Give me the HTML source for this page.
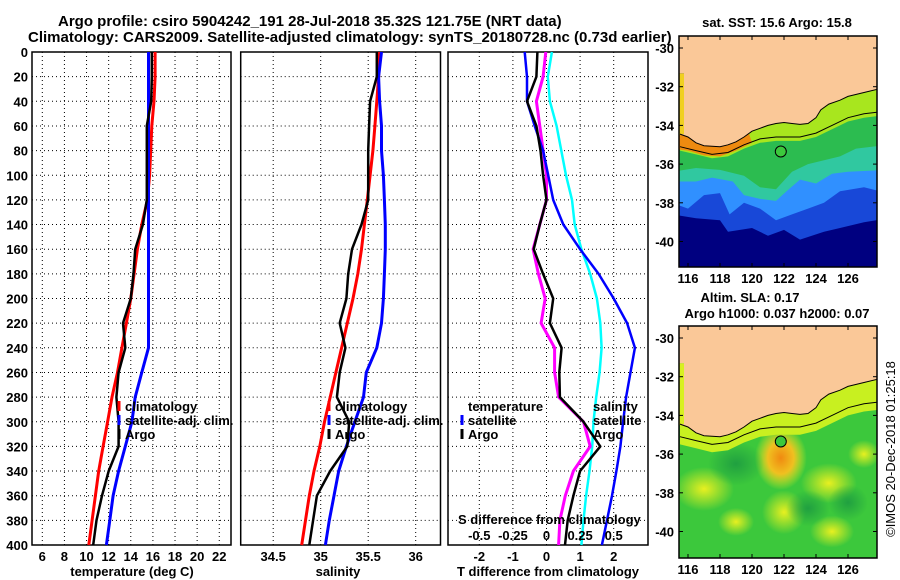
<!DOCTYPE html>
<html><head><meta charset="utf-8"><style>
html,body{margin:0;padding:0;background:#fff;}
svg{display:block;font-family:"Liberation Sans",Arial,sans-serif;}
.t{font-weight:bold;font-size:13px;fill:#000;}
.ttl{font-weight:bold;font-size:15px;fill:#000;}
</style></head><body>
<svg id="fig" width="900" height="580" viewBox="0 0 900 580">
<text class="ttl" x="58" y="26">Argo profile: csiro 5904242_191 28-Jul-2018 35.32S 121.75E (NRT data)</text>
<text class="ttl" x="28" y="42">Climatology: CARS2009. Satellite-adjusted climatology: synTS_20180728.nc (0.73d earlier)</text>
</svg>
<script>
const depths=[0,20,40,60,80,100,120,140,160,180,200,220,240,260,280,300,320,340,360,380,400];
const tClim=[16.2,16.2,16.1,15.9,15.8,15.7,15.5,15.0,14.6,14.3,14.0,13.6,13.2,12.8,12.3,11.9,11.5,11.1,10.8,10.5,10.2];
const tSat=[15.6,15.6,15.6,15.6,15.6,15.6,15.6,15.6,15.6,15.6,15.6,15.6,15.6,15.0,14.4,14.1,13.5,12.9,12.4,12.1,11.8];
const tArgo=[15.9,15.9,15.85,15.45,15.45,15.45,15.45,15.1,14.4,14.25,14.0,13.3,13.5,12.9,12.7,12.9,12.9,12.0,11.4,10.9,10.6];
const sClim=[35.62,35.61,35.59,35.57,35.55,35.52,35.49,35.46,35.43,35.39,35.34,35.28,35.22,35.16,35.10,35.04,34.99,34.93,34.88,34.84,34.80];
const sSat=[35.64,35.61,35.62,35.64,35.64,35.66,35.67,35.68,35.68,35.67,35.66,35.64,35.59,35.48,35.45,35.36,35.27,35.19,35.14,35.09,35.05];
const sArgo=[35.59,35.59,35.52,35.51,35.50,35.50,35.50,35.43,35.33,35.29,35.27,35.20,35.26,35.20,35.17,35.30,35.28,35.10,34.96,34.92,34.88];
const dTSat=[-0.65,-0.58,-0.58,-0.35,-0.1,0.05,0.2,0.5,1.0,1.55,2.0,2.4,2.63,2.5,2.37,2.28,2.2,2.08,1.95,1.8,1.65];
const dTArgo=[-0.27,-0.3,-0.58,-0.3,-0.18,-0.1,0,-0.2,-0.38,-0.1,0.2,0.1,0.45,0.38,0.4,1.1,1.6,1.0,0.8,0.63,0.55];
const dSSat=[0.04,0.01,0.025,0.075,0.11,0.145,0.19,0.21,0.26,0.325,0.375,0.4,0.41,0.395,0.37,0.35,0.34,0.32,0.295,0.275,0.26];
const dSArgo=[-0.005,-0.025,-0.075,-0.05,-0.025,0,0,-0.05,-0.1,-0.06,-0.01,-0.04,0.06,0.06,0.09,0.275,0.325,0.2,0.14,0.1,0.09];
const tTicks=[6,8,10,12,14,16,18,20,22];
const sTicks=[34.5,35,35.5,36];
const dTicks=[-2,-1,0,1,2];
const dSTickLabels=["-0.5","-0.25","0","0.25","0.5"];
const dSTickVals=[-0.5,-0.25,0,0.25,0.5];
const depthTicks=[0,20,40,60,80,100,120,140,160,180,200,220,240,260,280,300,320,340,360,380,400];
const latTicks=[-30,-32,-34,-36,-38,-40];
const lonTicks=[116,118,120,122,124,126];

const NS="http://www.w3.org/2000/svg";
const svg=document.getElementById('fig');
function mk(tag,attrs,parent){const e=document.createElementNS(NS,tag);for(const k in attrs)e.setAttribute(k,attrs[k]);(parent||svg).appendChild(e);return e;}
function txt(x,y,s,cls,anchor,parent){const e=mk('text',{x:x,y:y,class:cls||'t','text-anchor':anchor||'start'},parent);e.textContent=s;return e;}

const yD=d=>52+d*1.2325;
const xT=v=>42.3+(v-6)*11.06;
const xS=v=>320.7+(v-35)*95;
const xDT=v=>546.5+v*33.6;
const xDS=v=>546.5+v*4*33.6;

function panel(name,x0,x1,xticks,xf,labels,xlabel,xlabelX,showY){
  const g=mk('g',{});
  
  
  depthTicks.forEach(d=>{if(d>0&&d<400){const l=mk('line',{x1:x0,x2:x1,y1:yD(d),y2:yD(d),stroke:'#000','stroke-width':1,'stroke-dasharray':'1,3'},g);}});
  xticks.forEach(v=>{const l=mk('line',{x1:xf(v),x2:xf(v),y1:yD(0),y2:yD(400),stroke:'#000','stroke-width':1,'stroke-dasharray':'1,3'},g);});
  xticks.forEach((v,i)=>{const t=txt(xf(v),561,labels[i],'t','middle',g);});
  const xl=txt(xlabelX,576,xlabel,'t','middle',g);
  
  
  const r=mk('rect',{x:x0,y:yD(0),width:x1-x0,height:yD(400)-yD(0),fill:'none',stroke:'#000','stroke-width':1.5},g);
  
  
  if(showY){depthTicks.forEach(d=>{const t=txt(28,yD(d)+5,String(d),'t','end',g);});}
  return g;
}
function series(name,vals,xf,color,w,g){
  const pts=vals.map((v,i)=>xf(v).toFixed(1)+','+yD(depths[i]).toFixed(1)).join(' ');
  const p=mk('polyline',{points:pts,fill:'none',stroke:color,'stroke-width':w,'stroke-linejoin':'round'},g);
  
  
}
function legend(x,y,color,label,g){
  if(color){const m=mk('line',{x1:x-6,x2:x-6,y1:y-10,y2:y,stroke:color,'stroke-width':3},g);}
  const t=txt(x,y,label,'t','start',g);
  
  
}

const p1=panel('temperature-panel',32,231,tTicks,xT,tTicks.map(String),'temperature (deg C)',132,true);
series('temp-climatology',tClim,xT,'#ff0000',3,p1);
series('temp-satellite-adj',tSat,xT,'#0000ff',3,p1);
series('temp-argo',tArgo,xT,'#000000',2.5,p1);
legend(125,411,'#ff0000','climatology',p1);
legend(125,425,'#0000ff','satellite-adj. clim.',p1);
legend(125,439,'#000000','Argo',p1);

const p2=panel('salinity-panel',240.7,440.5,sTicks,xS,sTicks.map(String),'salinity',338,false);
series('sal-climatology',sClim,xS,'#ff0000',3,p2);
series('sal-satellite-adj',sSat,xS,'#0000ff',3,p2);
series('sal-argo',sArgo,xS,'#000000',2.5,p2);
legend(335,411,'#ff0000','climatology',p2);
legend(335,425,'#0000ff','satellite-adj. clim.',p2);
legend(335,439,'#000000','Argo',p2);

const p3=panel('difference-panel',448,648,dTicks,xDT,dTicks.map(String),'T difference from climatology',548,false);
series('sal-diff-satellite',dSSat,xDS,'#00ffff',2.5,p3);
series('sal-diff-argo',dSArgo,xDS,'#ff00ff',3,p3);
series('temp-diff-satellite',dTSat,xDT,'#0000ff',2.5,p3);
series('temp-diff-argo',dTArgo,xDT,'#000000',2.5,p3);
legend(468,411,null,'temperature',p3);
legend(468,425,'#0000ff','satellite',p3);
legend(468,439,'#000000','Argo',p3);
legend(593,411,null,'salinity',p3);
legend(593,425,null,'satellite',p3);
legend(593,439,null,'Argo',p3);
{const t=txt(458,524,'S difference from climatology','t','start',p3);}
dSTickVals.forEach((v,i)=>{const t=txt(xDS(v),540,dSTickLabels[i],'t','middle',p3);});

const coast=[[115.5,-34.45],[116,-34.6],[116.5,-34.9],[117,-35.05],[118,-35.1],[118.5,-35.0],[119,-34.85],[119.5,-34.6],[120,-34.3],[120.5,-34.15],[121,-34.0],[121.5,-33.9],[122,-33.85],[122.5,-33.9],[123,-33.95],[123.5,-33.9],[124,-33.6],[124.3,-33.2],[124.8,-32.9],[125.5,-32.7],[126,-32.5],[127,-32.3],[128,-32.1],[128.5,-32.0]];
const shelf=[[115.5,-35.1],[116.5,-35.3],[117.5,-35.5],[118.5,-35.4],[119.5,-35.0],[120.5,-34.7],[121.5,-34.6],[123,-34.6],[124,-34.4],[125,-34.0],[126,-33.6],[127,-33.4],[128,-33.3],[128.5,-33.3]];
function map(name,top,bot,kind,t1,t2){
  const X0=679,X1=877;
  const lx=lon=>688+(lon-116)*16;
  const ly=lat=>top+12+(-30-lat)*19.35;
  const g=mk('g',{});
  
  
  const clipId='clip'+kind;
  const cp=mk('clipPath',{id:clipId},g);mk('rect',{x:X0,y:top,width:X1-X0,height:bot-top},cp);
  const inner=mk('g',{'clip-path':'url(#'+clipId+')'},g);
  const P=arr=>arr.map(p=>lx(p[0]).toFixed(1)+','+ly(p[1]).toFixed(1)).join(' ');
  const poly=(arr,fill)=>{const e=mk('polygon',{points:P(arr),fill:fill},inner);return e;};
  const up=coast.map(p=>[p[0],p[1]+1]);
  const shelfBand=(dn,fill)=>poly([...up,...shelf.map(p=>[p[0],p[1]-dn]).reverse()],fill);
  if(kind==='sst'){
    mk('rect',{x:X0,y:top,width:X1-X0,height:bot-top,fill:'#000080'},inner);
    poly([[115,-38.6],[116.5,-38.8],[118,-38.9],[118.5,-39.5],[120,-39.3],[121,-39.7],[122,-39.4],[123,-39.9],[124.5,-39.5],[125.5,-39.3],[127,-39.0],[128.5,-38.8],[128.5,-36.5],[115,-36.5]],'#1848d8');
    poly([[115,-38.0],[116,-38.3],[117,-37.6],[118,-37.5],[118.6,-38.6],[119.5,-38.0],[120.5,-38.3],[121.5,-38.9],[122.5,-38.6],[123.5,-38.3],[124.5,-38.0],[125.5,-37.4],[127,-37.2],[128.5,-37.5],[128.5,-36.3],[115,-36.3]],'#3090ff');
    poly([[115,-36.9],[116.5,-36.9],[117.5,-36.7],[118.8,-36.9],[119.5,-37.6],[120.5,-37.8],[121.5,-37.9],[122.3,-37.3],[123,-36.8],[124,-37.0],[125,-36.5],[126,-36.4],[128.5,-36.3],[128.5,-34.5],[115,-34.5]],'#30c8a0');
    poly([[115,-36.4],[116.5,-36.2],[118,-36.3],[119.5,-36.6],[120.5,-37.2],[121.5,-37.3],[122.5,-36.4],[123.5,-36.0],[124.5,-35.8],[125.5,-35.6],[126.5,-35.2],[128.5,-35.0],[128.5,-33.5],[115,-33.5]],'#2cbc50');
    shelfBand(0.2,'#a8e61e');
    poly([[115,-34.2],[116,-34.45],[117,-34.8],[118,-34.95],[119,-34.7],[119.8,-34.4],[120,-34.9],[119,-35.3],[118,-35.6],[117,-35.55],[116,-35.3],[115,-35.2]],'#ee8a10');
    poly([[115,-31.3],[115.75,-31.3],[115.75,-34.5],[115,-34.5]],'#f0d020');
  } else {
    mk('rect',{x:X0,y:top,width:X1-X0,height:bot-top,fill:'#3cc83c'},inner);
    const defs=mk('defs',{},inner);
    const rg=mk('radialGradient',{id:'blobY'},defs);mk('stop',{offset:'0','stop-color':'#e8f020'},rg);mk('stop',{offset:'1','stop-color':'#e8f020','stop-opacity':'0'},rg);
    const ro=mk('radialGradient',{id:'blobO'},defs);mk('stop',{offset:'0','stop-color':'#f08a10'},ro);mk('stop',{offset:'0.5','stop-color':'#f0c020'},ro);mk('stop',{offset:'1','stop-color':'#e8f020','stop-opacity':'0'},ro);
    const rd=mk('radialGradient',{id:'blobD'},defs);mk('stop',{offset:'0','stop-color':'#20a040'},rd);mk('stop',{offset:'1','stop-color':'#20a040','stop-opacity':'0'},rd);
    const blob=(lon,lat,rx,ry,f)=>{const e=mk('ellipse',{cx:lx(lon),cy:ly(lat),rx:rx,ry:ry,fill:'url(#'+f+')'},inner);};
    blob(117,-37.8,30,22,'blobY');blob(121.8,-36.2,26,32,'blobO');blob(124.8,-37.5,28,20,'blobY');
    blob(125,-40,22,16,'blobY');blob(122,-39,22,22,'blobY');blob(119,-39.5,18,14,'blobY');blob(127,-36,16,14,'blobY');
    blob(119,-36.5,28,22,'blobD');blob(123.5,-38.8,22,18,'blobD');blob(126,-38.5,20,18,'blobD');
    shelfBand(0.4,'#c8f020');
    poly([[115,-31.3],[115.75,-31.3],[115.75,-34.5],[115,-34.5]],'#d8f020');
  }
  const ld=mk('polygon',{points:[[115,-28],[128.5,-28],...coast.slice().reverse(),[115.75,-34.45],[115.75,-31.3],[115,-31.3]].map(p=>lx(p[0]).toFixed(1)+','+ly(p[1]).toFixed(1)).join(' '),fill:'#fac898'},inner);
  
  
  const cl=mk('polyline',{points:P(coast),fill:'none',stroke:'#000','stroke-width':1},inner);
  
  
  const sl=mk('polyline',{points:P(shelf),fill:'none',stroke:'#000','stroke-width':1},inner);
  
  
  const c=mk('circle',{cx:lx(121.8),cy:ly(-35.35),r:5.5,fill:'#3cc83c',stroke:'#000','stroke-width':1},inner);
  
  
  const fr=mk('rect',{x:X0,y:top,width:X1-X0,height:bot-top,fill:'none',stroke:'#000','stroke-width':1.5},g);
  
  
  latTicks.forEach(v=>{mk('line',{x1:X0,x2:X0+4,y1:ly(v),y2:ly(v),stroke:'#000'},g);mk('line',{x1:X1-4,x2:X1,y1:ly(v),y2:ly(v),stroke:'#000'},g);const t=txt(674,ly(v)+5,String(v),'t','end',g);});
  lonTicks.forEach(v=>{mk('line',{x1:lx(v),x2:lx(v),y1:top,y2:top+4,stroke:'#000'},g);mk('line',{x1:lx(v),x2:lx(v),y1:bot-4,y2:bot,stroke:'#000'},g);const t=txt(lx(v),bot+16,String(v),'t','middle',g);});
  if(t1){const t=txt(t1[1],t1[2],t1[0],'t','middle',g);}
  if(t2){const t=txt(t2[1],t2[2],t2[0],'t','middle',g);}
}
map('sst-map',36,267,'sst',['sat. SST: 15.6 Argo: 15.8',777,27]);
map('sla-map',326,558,'sla',['Altim. SLA: 0.17',750,302],['Argo h1000: 0.037 h2000: 0.07',777,318]);
{const t=mk('text',{x:0,y:0,'font-size':'13','text-anchor':'middle',transform:'translate(895,449) rotate(-90)'});t.textContent='©IMOS 20-Dec-2018 01:25:18';}
</script>
</body></html>
